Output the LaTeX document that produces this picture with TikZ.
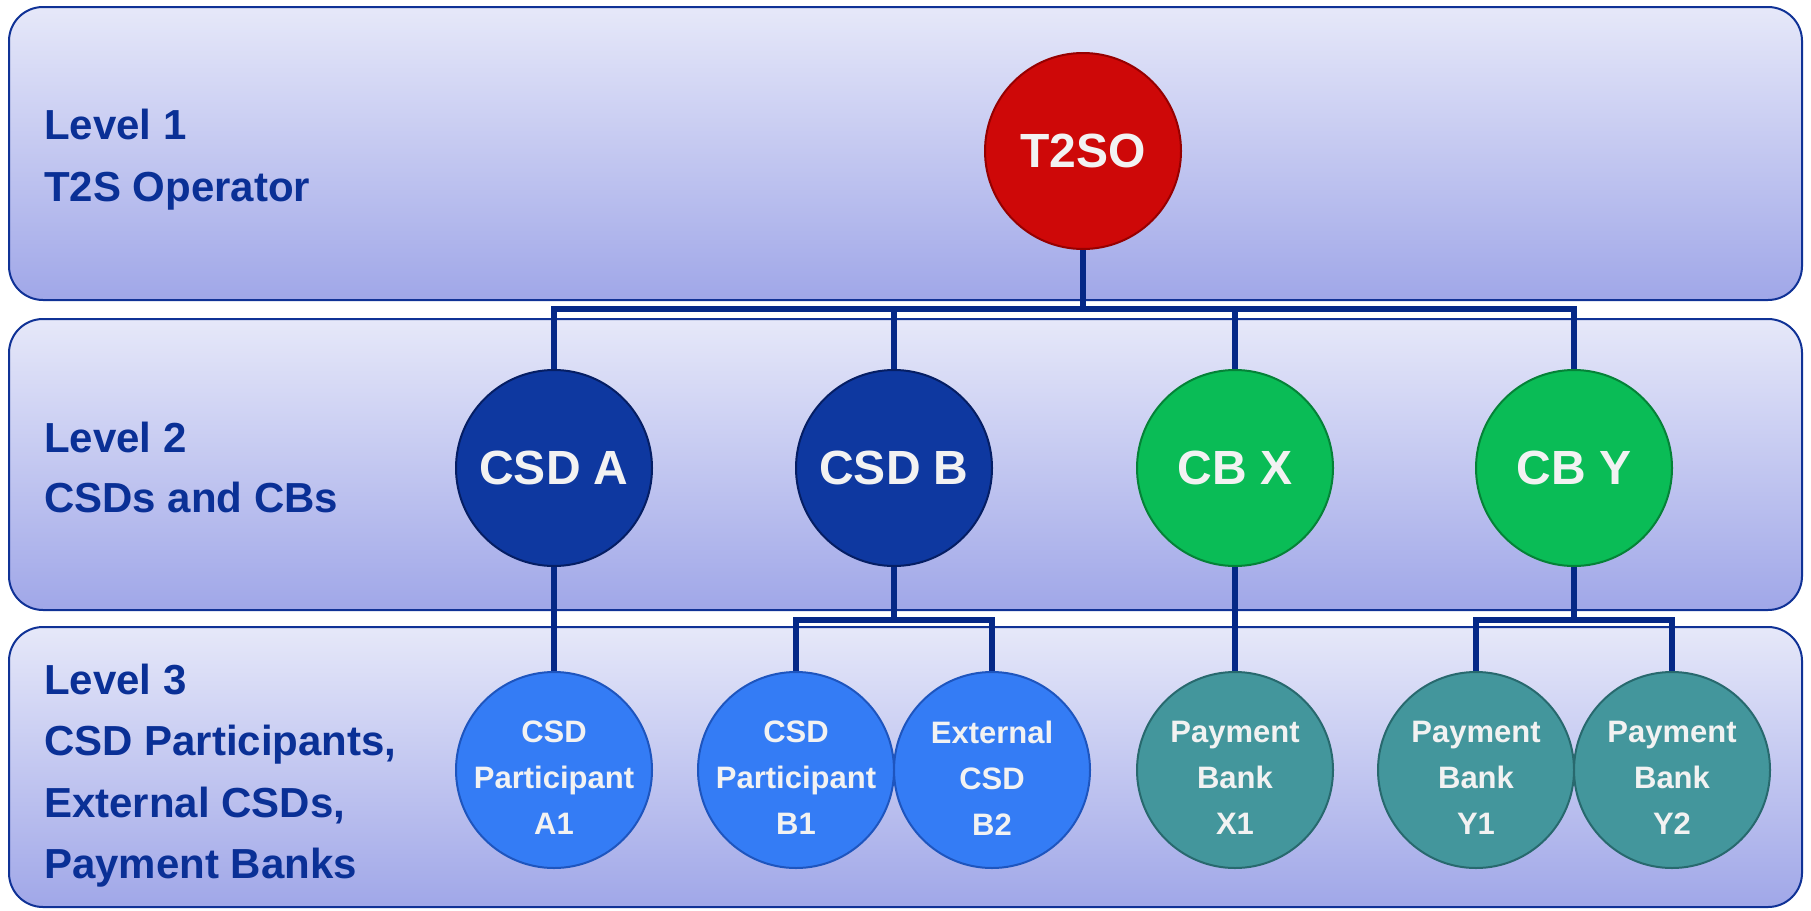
\documentclass[tikz,border=0pt]{standalone}
\usepackage{fontspec}
\setmainfont{Liberation Sans}
\definecolor{bandline}{RGB}{16,50,150}
\definecolor{bandtop}{RGB}{230,232,249}
\definecolor{bandbot}{RGB}{160,167,232}
\definecolor{lbl}{RGB}{10,48,150}
\definecolor{conn}{RGB}{5,40,135}
\definecolor{redc}{RGB}{206,8,8}
\definecolor{redd}{RGB}{150,0,0}
\definecolor{navyc}{RGB}{14,56,160}
\definecolor{navyd}{RGB}{5,30,100}
\definecolor{greenc}{RGB}{10,188,86}
\definecolor{greend}{RGB}{5,130,55}
\definecolor{bluec}{RGB}{52,124,245}
\definecolor{blued}{RGB}{30,85,190}
\definecolor{tealc}{RGB}{67,150,156}
\definecolor{teald}{RGB}{40,105,110}
\definecolor{wtext}{RGB}{242,242,242}
\begin{document}
\begin{tikzpicture}[x=1pt,y=-1pt,
  band/.style={draw=bandline, line width=2pt, rounded corners=34pt, top color=bandtop, bottom color=bandbot},
  lvl/.style={anchor=base west, inner sep=0pt, text=lbl, font=\fontsize{42}{50}\selectfont\bfseries},
  ball/.style={circle, minimum size=196pt, inner sep=0pt, line width=2pt},
  bigtxt/.style={text=wtext, font=\fontsize{48}{56}\selectfont\bfseries},
  smalltxt/.style={text=wtext, align=center, inner sep=0pt, font=\fontsize{31}{46}\selectfont\bfseries},
  redball/.style={ball, fill=redc, draw=redd},
  navyball/.style={ball, fill=navyc, draw=navyd},
  greenball/.style={ball, fill=greenc, draw=greend},
  blueball/.style={ball, fill=bluec, draw=blued},
  tealball/.style={ball, fill=tealc, draw=teald},
  connector/.style={draw=conn, line width=5.5pt, line join=miter}
]
\useasboundingbox (0,0) rectangle (1811,910);
% bands
\path[band] (9,7) rectangle (1802,300);
\path[band] (9,319) rectangle (1802,610);
\path[band] (9,627) rectangle (1802,907);
% left labels
\node[lvl] (l1a) at (44,139) {Level 1};
\node[lvl] (l1b) at (44,201) {T2S Operator};
\node[lvl] (l2a) at (44,452) {Level 2};
\node[lvl] (l2b) at (44,512) {CSDs and CBs};
\node[lvl] (l3a) at (44,694) {Level 3};
\node[lvl] (l3b) at (44,755) {CSD Participants,};
\node[lvl] (l3c) at (44,817) {External CSDs,};
\node[lvl] (l3d) at (44,878) {Payment Banks};
% coordinates for buses
\coordinate (busL) at (554,309);
\coordinate (busR) at (1574,309);
\coordinate (subB1) at (796,620);
\coordinate (subB2) at (992,620);
\coordinate (subY1) at (1476,620);
\coordinate (subY2) at (1672,620);
% circles
\node[redball] (t2so) at (1083,151) {};
\node[navyball] (csda) at (554,468) {};
\node[navyball] (csdb) at (894,468) {};
\node[greenball] (cbx) at (1235,468) {};
\node[greenball] (cby) at (1574,468) {};
\node[blueball] (a1) at (554,770) {};
\node[blueball] (b1) at (796,770) {};
\node[blueball] (b2) at (992,770) {};
\node[tealball] (x1) at (1235,770) {};
\node[tealball] (y1) at (1476,770) {};
\node[tealball] (y2) at (1672,770) {};
% connectors
\draw[connector] (t2so.south) -- (t2so.south |- busL);
\draw[connector] (csda.north) -- (busL) -- (busR) -- (cby.north);
\draw[connector] (csdb.north) -- (csdb.north |- busL);
\draw[connector] (cbx.north) -- (cbx.north |- busL);
\draw[connector] (csda.south) -- (a1.north);
\draw[connector] (csdb.south) -- (csdb.south |- subB1);
\draw[connector] (b1.north) -- (subB1) -- (subB2) -- (b2.north);
\draw[connector] (cbx.south) -- (x1.north);
\draw[connector] (cby.south) -- (cby.south |- subY1);
\draw[connector] (y1.north) -- (subY1) -- (subY2) -- (y2.north);
% texts
\node[bigtxt] (t2sot) at (t2so) {T2SO};
\node[bigtxt] (csdat) at (csda) {CSD A};
\node[bigtxt] (csdbt) at (csdb) {CSD B};
\node[bigtxt] (cbxt) at (cbx) {CB X};
\node[bigtxt] (cbyt) at (cby) {CB Y};
\node[smalltxt, yshift=-8pt] (a1t) at (a1) {CSD\\Participant\\A1};
\node[smalltxt, yshift=-8pt] (b1t) at (b1) {CSD\\Participant\\B1};
\node[smalltxt, yshift=-8pt] (b2t) at (b2) {External\\CSD\\B2};
\node[smalltxt, yshift=-8pt] (x1t) at (x1) {Payment\\Bank\\X1};
\node[smalltxt, yshift=-8pt] (y1t) at (y1) {Payment\\Bank\\Y1};
\node[smalltxt, yshift=-8pt] (y2t) at (y2) {Payment\\Bank\\Y2};
\end{tikzpicture}
\end{document}
